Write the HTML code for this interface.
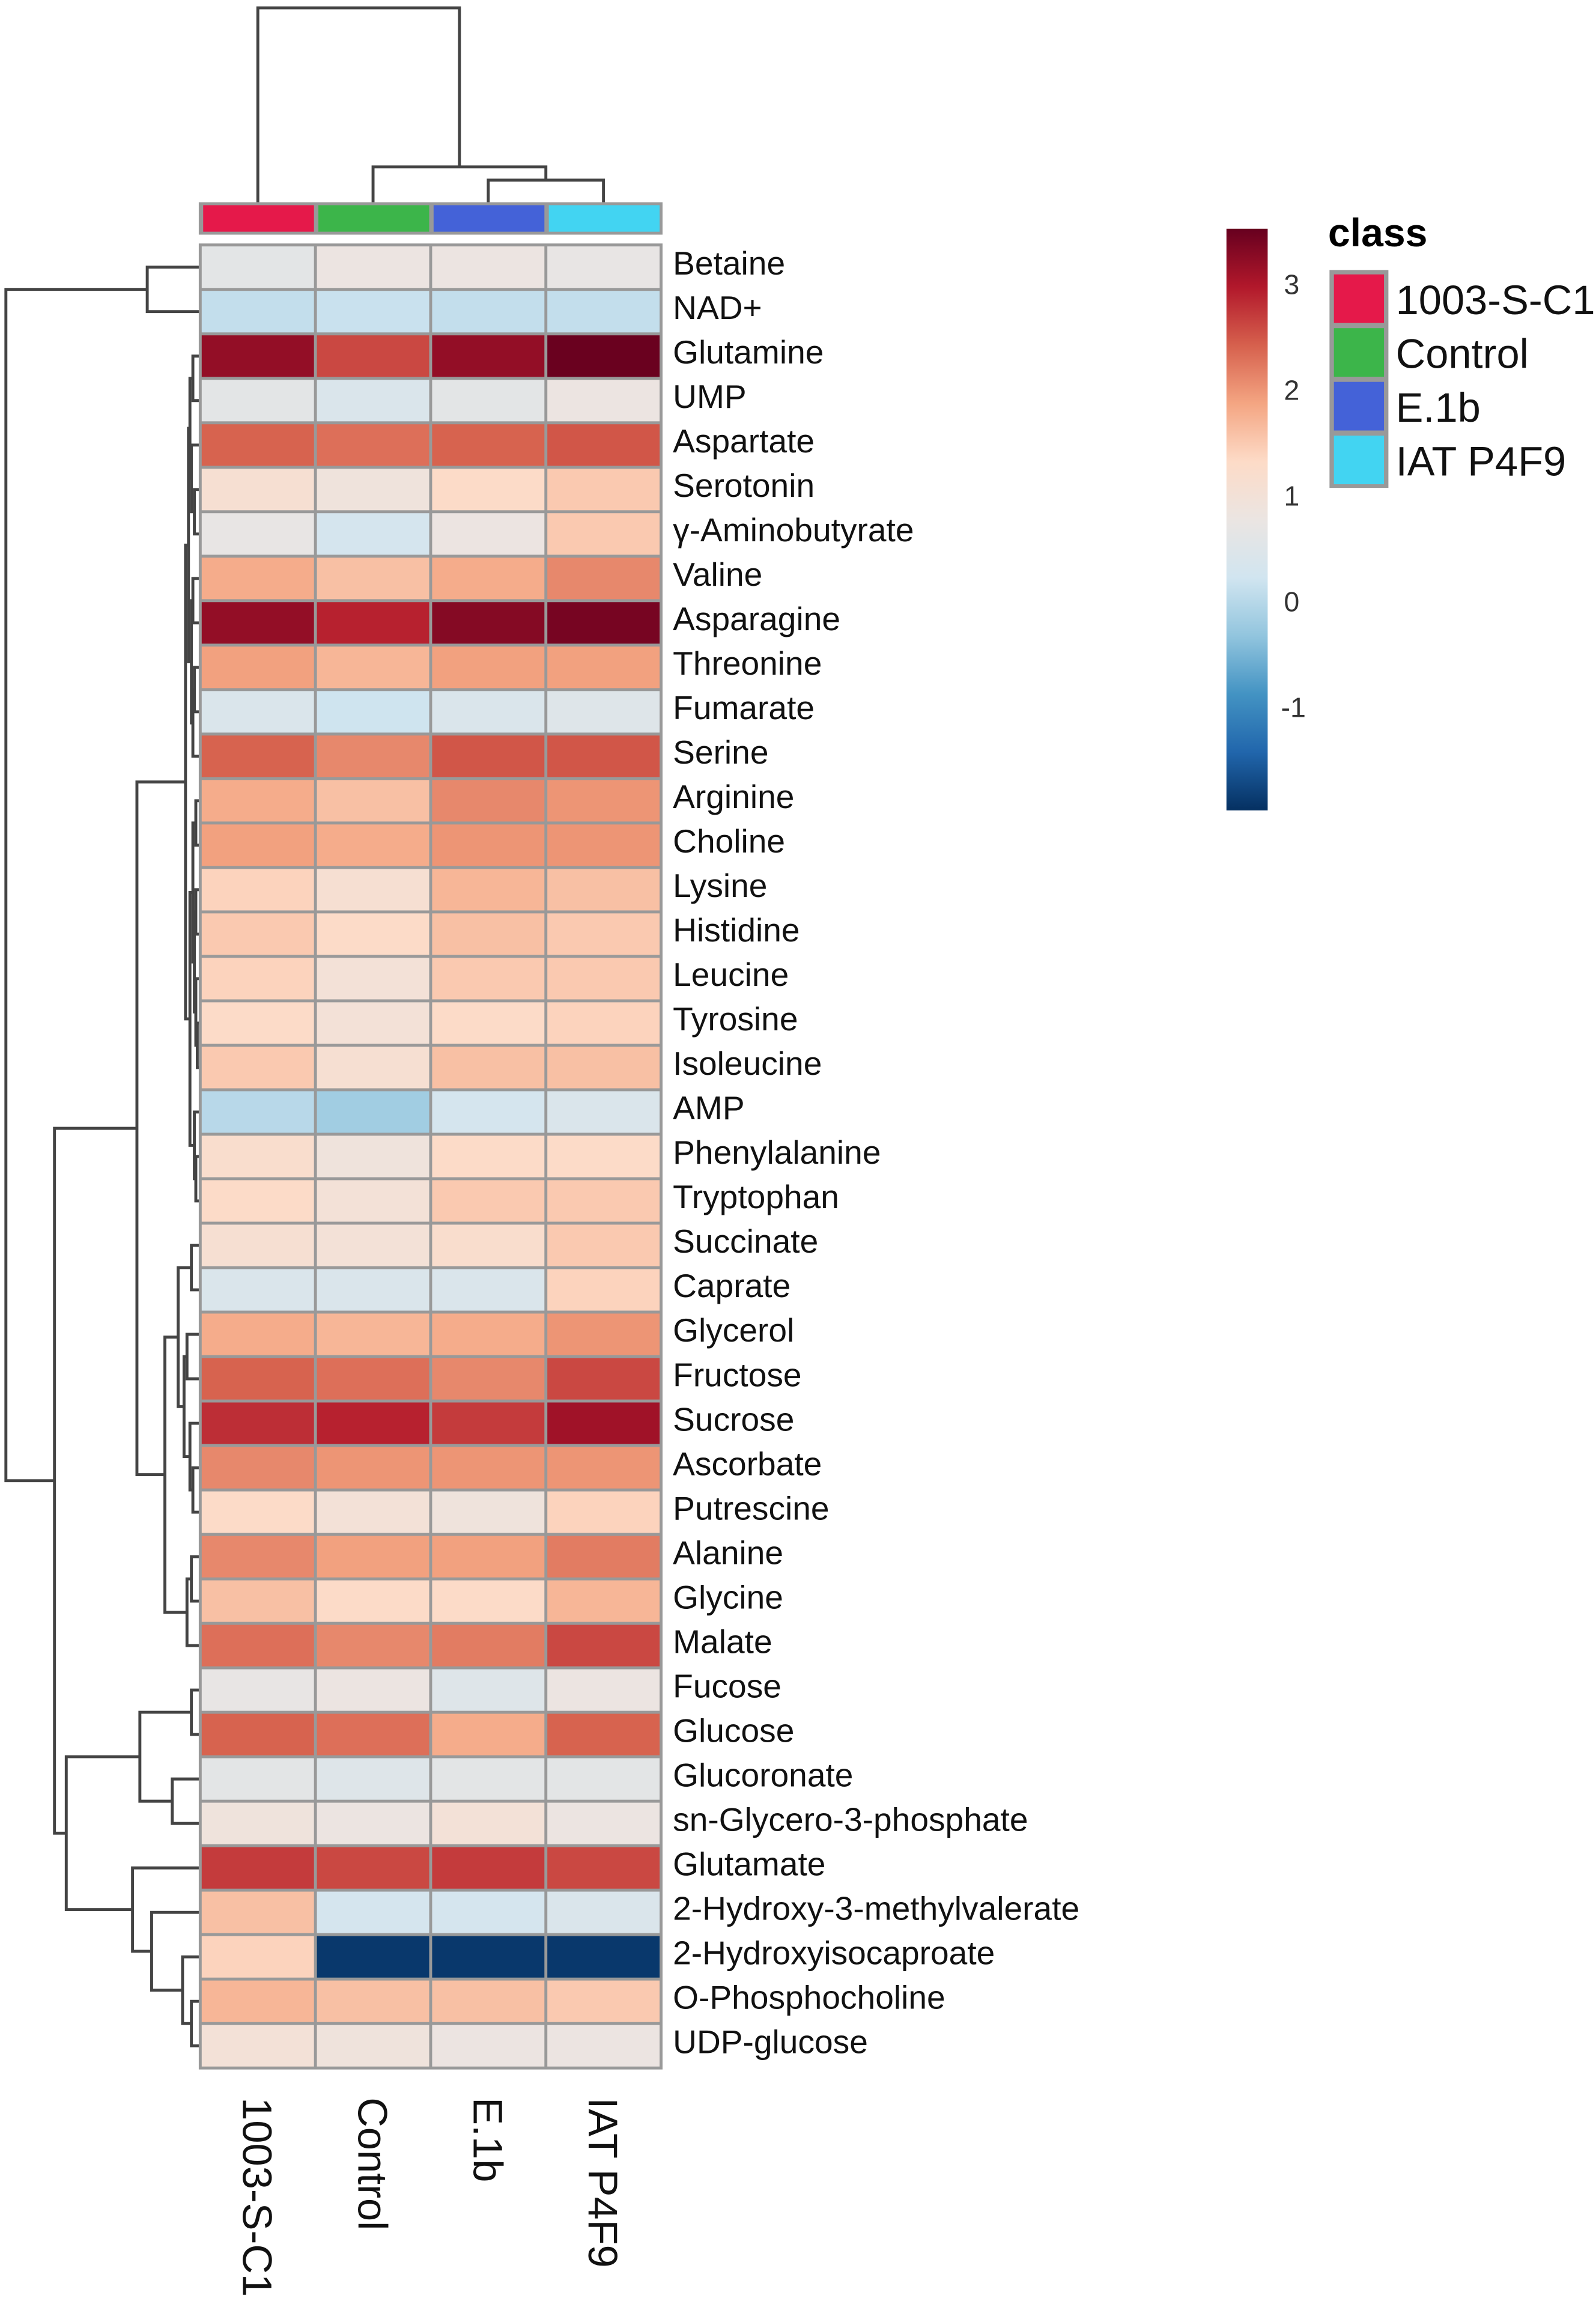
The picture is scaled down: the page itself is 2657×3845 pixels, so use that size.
<!DOCTYPE html>
<html><head><meta charset="utf-8">
<style>
html,body{margin:0;padding:0;background:#fff;}
svg{display:block;}
text{font-family:"Liberation Sans","DejaVu Sans",sans-serif;}
</style></head>
<body>
<svg id="chart" xmlns="http://www.w3.org/2000/svg" width="2657" height="3845" viewBox="0 0 1084 1568">
<defs>
<linearGradient id="cbar" x1="0" y1="1" x2="0" y2="0">
<stop offset="0" stop-color="#053061"/><stop offset="0.1" stop-color="#2166ac"/><stop offset="0.2" stop-color="#4393c3"/><stop offset="0.3" stop-color="#92c5de"/><stop offset="0.4" stop-color="#d1e5f0"/><stop offset="0.5" stop-color="#ebe5e2"/><stop offset="0.6" stop-color="#fddbc7"/><stop offset="0.7" stop-color="#f4a582"/><stop offset="0.8" stop-color="#d6604d"/><stop offset="0.9" stop-color="#b2182b"/><stop offset="1" stop-color="#67001f"/>
</linearGradient>
</defs>
<g id="dendro-left"></g>
<g id="dendro-top"></g>
<g id="annot"></g>
<g id="cells"></g>
<g id="rowlabels"></g>
<g id="collabels"></g>
<g>
<rect x="833" y="155" width="28" height="395" fill="url(#cbar)"/>
<g id="cbticks" font-size="18" fill="#333"></g>
</g>
<g id="classlegend">
<text x="902" y="167" font-size="27" font-weight="bold">class</text>
</g>
</svg>
<script>
const rowNames=["Betaine","NAD+","Glutamine","UMP","Aspartate","Serotonin","γ-Aminobutyrate","Valine","Asparagine","Threonine","Fumarate","Serine","Arginine","Choline","Lysine","Histidine","Leucine","Tyrosine","Isoleucine","AMP","Phenylalanine","Tryptophan","Succinate","Caprate","Glycerol","Fructose","Sucrose","Ascorbate","Putrescine","Alanine","Glycine","Malate","Fucose","Glucose","Glucoronate","sn-Glycero-3-phosphate","Glutamate","2-Hydroxy-3-methylvalerate","2-Hydroxyisocaproate","O-Phosphocholine","UDP-glucose"];
const colNames=["1003-S-C1","Control","E.1b","IAT P4F9"];
const colColors=["#e5194a","#3cb54a","#4462d8","#42d4f2"];
const valsC1=[0.6,0.1,3.2,0.6,2.4,1.1,0.7,1.8,3.2,1.9,0.4,2.4,1.8,1.9,1.4,1.5,1.4,1.3,1.5,0.0,1.2,1.3,1.1,0.4,1.8,2.4,2.8,2.1,1.3,2.1,1.6,2.3,0.7,2.4,0.6,0.9,2.7,1.6,1.4,1.7,1.0];
const valsControl=[0.8,0.15,2.6,0.4,2.3,0.9,0.3,1.6,2.9,1.7,0.2,2.1,1.6,1.8,1.1,1.3,1.0,1.0,1.1,-0.2,0.9,1.0,1.0,0.4,1.7,2.3,2.9,2.0,1.0,1.9,1.3,2.1,0.8,2.3,0.5,0.8,2.6,0.3,-1.9,1.6,0.9];
const valsE1b=[0.8,0.1,3.2,0.6,2.4,1.3,0.8,1.8,3.3,1.9,0.4,2.5,2.1,2.0,1.7,1.6,1.5,1.3,1.6,0.3,1.3,1.5,1.2,0.4,1.8,2.1,2.7,2.0,0.9,1.9,1.3,2.2,0.5,1.8,0.6,1.0,2.7,0.3,-1.9,1.6,0.8];
const valsIAT=[0.7,0.1,3.5,0.8,2.5,1.5,1.5,2.1,3.4,1.9,0.5,2.5,2.0,2.0,1.6,1.5,1.5,1.4,1.6,0.4,1.3,1.5,1.5,1.4,2.0,2.6,3.1,2.0,1.4,2.2,1.7,2.6,0.8,2.4,0.6,0.8,2.6,0.4,-1.9,1.5,0.8];
const cbTicks=[3,2,1,0,-1];
const series=[valsC1,valsControl,valsE1b,valsIAT];

const NS="http://www.w3.org/2000/svg";
function mk(tag,attrs,parent){const e=document.createElementNS(NS,tag);for(const k in attrs)e.setAttribute(k,attrs[k]);parent.appendChild(e);return e;}
const X0=136,X1=449,Y0=166,Y1=1404,VMIN=-1.98,VMAX=3.52;
const cw=(X1-X0)/colNames.length, rh=(Y1-Y0)/rowNames.length;
function xCol(i){return X0+i*cw;}
function yRow(i){return Y0+i*rh;}
function yVal(v){return 550-(v-VMIN)/(VMAX-VMIN)*395;}
const stops=["#053061","#2166ac","#4393c3","#92c5de","#d1e5f0","#ebe5e2","#fddbc7","#f4a582","#d6604d","#b2182b","#67001f"];
function hex(c){return [1,3,5].map(i=>parseInt(c.substr(i,2),16));}
function color(v){let t=(v-VMIN)/(VMAX-VMIN);t=Math.max(0,Math.min(1,t))*10;const i=Math.min(9,Math.floor(t)),f=t-i;const a=hex(stops[i]),b=hex(stops[i+1]);return "rgb("+a.map((x,k)=>Math.round(x+(b[k]-x)*f)).join(",")+")";}

const cells=document.getElementById('cells');
mk('rect',{x:X0-1,y:Y0-1,width:X1-X0+2,height:Y1-Y0+2,fill:'#999'},cells);
series.forEach((s,c)=>{s.forEach((v,r)=>{
 const e=mk('rect',{x:xCol(c)+1,y:yRow(r)+1,width:cw-2,height:rh-2,fill:color(v)},cells);
 
 
});});

const rl=document.getElementById('rowlabels');
rowNames.forEach((n,r)=>{const t=mk('text',{x:457,y:yRow(r)+rh/2+5,'font-size':22.5,fill:'#111'},rl);t.textContent=n;
 
 });

const cl=document.getElementById('collabels');
colNames.forEach((n,c)=>{const x=xCol(c)+cw/2-10,y=1424;const t=mk('text',{x:x,y:y,'font-size':28,fill:'#111',transform:'rotate(90 '+x+' '+y+')'},cl);t.textContent=n;
 
 });

const an=document.getElementById('annot');
mk('rect',{x:X0-1,y:137,width:X1-X0+2,height:22,fill:'#999'},an);
colColors.forEach((col,c)=>{const e=mk('rect',{x:xCol(c)+2,y:139,width:cw-3,height:18,fill:col},an);
 
 });

const cbt=document.getElementById('cbticks');
cbTicks.forEach(v=>{const t=mk('text',{x:v<0?870:872,y:yVal(v)+7,'font-size':19,fill:'#333'},cbt);t.textContent=v<0?"-"+(-v):String(v);
 
 });

const cls=document.getElementById('classlegend');
mk('rect',{x:903,y:183,width:40,height:148,fill:'#999'},cls);
colNames.forEach((n,i)=>{const y=186+i*36.5;const r=mk('rect',{x:906,y:y,width:34,height:33,fill:colColors[i]},cls);
 
 
 const t=mk('text',{x:948,y:y+27,'font-size':28,fill:'#111'},cls);t.textContent=n;
 
 });

const rowTree=[[0,1,100],[[[[[[2,3,131],[4,[5,6,132],130],129],[[7,8,131],[[9,10,132],11,131],130],128],[[[12,13,133],[[14,15,133],[16,[17,18,134],133],132],131],[19,[20,21,133],132],129],126],[[[22,23,130],[[24,25,127],[26,[27,28,131],129],125],121],[[29,30,130],31,127],112],93],[[[32,33,130],[34,35,117],95],[36,[37,[38,[39,40,130],124],103],90],45],37],4];
const dl=document.getElementById('dendro-left');
function drawRow(n){if(typeof n==='number')return {y:yRow(n)+rh/2,x:X0};
 const a=drawRow(n[0]),b=drawRow(n[1]),x=n[2];
 const p=mk('path',{d:`M${a.x},${a.y}H${x}V${b.y}H${b.x}`,fill:'none',stroke:'#444','stroke-width':2},dl);
 
 
 return {y:(a.y+b.y)/2,x:x};}
drawRow(rowTree);

const dt=document.getElementById('dendro-top');
function colC(i){return xCol(i)+cw/2;}
const colTree=[0,[1,[2,3,122],113],5];
function drawCol(n){if(typeof n==='number')return {x:colC(n),y:137};
 const a=drawCol(n[0]),b=drawCol(n[1]),y=n[2];
 const p=mk('path',{d:`M${a.x},${a.y}V${y}H${b.x}V${b.y}`,fill:'none',stroke:'#444','stroke-width':2},dt);
 
 
 return {x:(a.x+b.x)/2,y:y};}
drawCol(colTree);
</script>
</body></html>
